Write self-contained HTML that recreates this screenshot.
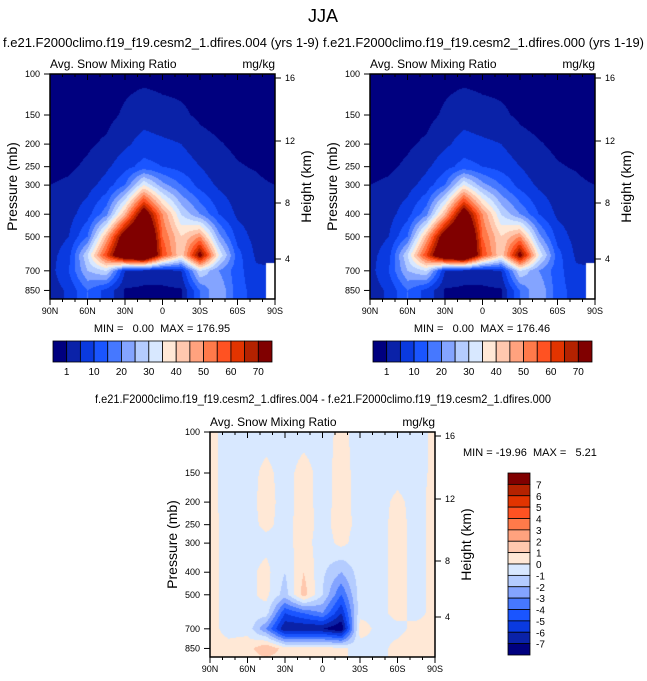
<!DOCTYPE html>
<html><head><meta charset="utf-8"><style>
body{margin:0;background:#fff;width:647px;height:681px;overflow:hidden;position:relative;font-family:"Liberation Sans",sans-serif}
canvas{position:absolute}
svg{position:absolute;left:0;top:0}
text{white-space:pre}
</style></head><body>
<canvas id="c1" width="225" height="225" style="left:50px;top:74px"></canvas>
<canvas id="c2" width="225" height="225" style="left:370px;top:74px"></canvas>
<canvas id="c3" width="225" height="225" style="left:210px;top:432px"></canvas>
<svg id="s" width="647" height="681"></svg>
<script>
const lats=[90,75,60,45,30,15,0,-15,-30,-45,-60,-75,-90];
const levs=[100,150,200,250,300,400,500,600,700,850,925];
const fieldA=[
[0,0,0,0,0,0,0,0,0,0,0,0,0],
[0,0,0,0,1.5,3,2,1.5,0.5,0,0,0,0],
[0,0,0.5,1.5,4,7,6,5,2,1.2,0.5,0,0],
[0,0.5,1.5,4,8,12,10,8,5,2,1.2,0.8,0],
[1,1.5,3,7,15,35,22,15,8,4,2,1.5,1],
[1.5,3,8,18,45,80,50,30,20,10,4,2,1.5],
[2,5,15,45,80,100,55,40,50,22,8,3,2],
[3,8,30,60,90,100,60,40,75,35,12,4,2.5],
[3,10,25,30,5,3,3,5,30,20,12,6,null],
[2,6,15,8,0.5,0.3,0.3,0.5,15,25,12,8,null],
[2,6,15,8,0.5,0.3,0.3,0.5,15,25,12,8,null]];
const fieldB=fieldA;
const fieldD=[
[0.2,-0.3,-0.3,-0.3,-0.3,-0.3,-0.3,0.2,-0.3,-0.3,-0.3,-0.3,0.2],
[0.2,-0.3,-0.3,0.2,-0.3,0.3,-0.3,0.3,-0.3,-0.3,-0.3,-0.3,0.2],
[0.2,-0.3,-0.3,0.3,-0.3,0.3,-0.3,0.3,-0.3,-0.3,0.2,-0.3,0.3],
[0.3,-0.3,-0.3,0.2,-0.3,0.4,-0.3,0.4,-0.3,-0.3,0.3,-0.3,0.3],
[0.3,-0.3,-0.3,-0.3,-0.3,0.4,-0.5,0.3,-0.5,-0.3,0.3,-0.3,0.3],
[0.3,-0.3,-0.3,0.3,-1,1,-0.8,-2,-0.5,-0.3,0.3,-0.3,0.3],
[0.3,-0.3,-0.3,0.3,-1.5,1.5,-1,-4,-0.5,-0.3,0.3,-0.3,0.3],
[0.3,-0.3,-0.3,-0.5,-5,-4,-3,-6,-0.3,-0.3,0.3,-0.3,0.3],
[0.3,-0.3,-0.3,-3,-7,-7,-7,-8,0.5,-0.3,-0.3,0.3,0.3],
[0.2,0.3,0.5,2,0.5,0.5,0.5,0.3,-0.5,-0.3,0.3,0.5,0.3],
[0.2,0.3,0.5,1,0.5,0.5,0.5,0.3,-0.5,-0.3,0.3,0.5,0.3]];
const levelsA=[1,5,10,15,20,25,30,35,40,45,50,55,60,65,70];
const labelsA=["1","10","20","30","40","50","60","70"];
const levelsD=[-7,-6,-5,-4,-3,-2,-1,0,1,2,3,4,5,6,7];
const colors=["#00007f","#0a22a8","#0a3ae0","#1a55ff","#4678ff","#84a4ff","#b4ccff","#d8e8ff","#ffe8d6","#ffc8ae","#ffa27e","#ff7a4a","#ff5222","#e23400","#b42200","#800000"];
const NS="http://www.w3.org/2000/svg",svg=document.getElementById('s');
const ptop=100,pbot=925,H=225,W=225;
function yOf(p){return H*Math.log(p/ptop)/Math.log(pbot/ptop);}
function xOf(lat){return W*(90-lat)/180;}
function colorIdx(v,lv){let i=0;while(i<lv.length&&v>=lv[i])i++;return i;}
function hex(c){return [parseInt(c.slice(1,3),16),parseInt(c.slice(3,5),16),parseInt(c.slice(5,7),16)];}
const rgb=colors.map(hex);
function sample(f,lat,p){
  let fi=(90-lat)/15;let i0=Math.min(Math.floor(fi),lats.length-2),tx=fi-i0;
  let j0=0;while(j0<levs.length-2&&p>levs[j0+1])j0++;
  let ty=(Math.log(p)-Math.log(levs[j0]))/(Math.log(levs[j0+1])-Math.log(levs[j0]));ty=Math.max(0,Math.min(1,ty));
  const ni=tx<0.5?i0:i0+1,nj=ty<0.5?j0:j0+1;
  if(f[nj][ni]===null)return null;
  const a=f[j0][i0],b=f[j0][i0+1],c=f[j0+1][i0],d=f[j0+1][i0+1];
  const z=(v,alt)=>v===null?alt:v;
  const A=z(a,z(c,0)),B=z(b,A),C=z(c,A),D=z(d,C);
  return (A*(1-tx)+B*tx)*(1-ty)+(C*(1-tx)+D*tx)*ty;
}
function draw(id,f,lv){
  const cv=document.getElementById(id),ctx=cv.getContext('2d'),im=ctx.createImageData(W,H);
  for(let y=0;y<H;y++){const p=ptop*Math.exp((y+0.5)/H*Math.log(pbot/ptop));
    for(let x=0;x<W;x++){const lat=90-(x+0.5)/W*180;const v=sample(f,lat,p);const k=(y*W+x)*4;
      if(v===null){im.data[k]=255;im.data[k+1]=255;im.data[k+2]=255;}else{const c=rgb[colorIdx(v,lv)];im.data[k]=c[0];im.data[k+1]=c[1];im.data[k+2]=c[2];}
      im.data[k+3]=255;}}
  ctx.putImageData(im,0,0);
}
draw('c1',fieldA,levelsA);draw('c2',fieldB,levelsA);draw('c3',fieldD,levelsD);
function el(t,a,txt){const e=document.createElementNS(NS,t);for(const k in a)e.setAttribute(k,a[k]);if(txt!==undefined)e.textContent=txt;svg.appendChild(e);return e;}
function text(x,y,s,size,anchor,name,extra){const e=el('text',Object.assign({x:x,y:y,'font-size':size,'text-anchor':anchor||'start','font-family':'Liberation Sans, sans-serif'},extra||{}),s);return e;}
const pTicks=[100,150,200,250,300,400,500,700,850];
const hTicks=[[16,4],[12,67],[8,129],[4,185]];
const latTicks=[[90,"90N"],[60,"60N"],[30,"30N"],[0,"0"],[-30,"30S"],[-60,"60S"],[-90,"90S"]];
function axes(ox,oy,pre){
  const r=el('rect',{x:ox,y:oy,width:W,height:H,fill:'none',stroke:'#000','stroke-width':1.5});
  
  for(let lat=90;lat>=-90;lat-=10){const x=ox+xOf(lat);const major=lat%30===0;const L=major?6:3;
    el('line',{x1:x,y1:oy,x2:x,y2:oy+L,stroke:'#000'});el('line',{x1:x,y1:oy+H,x2:x,y2:oy+H+L,stroke:'#000'});}
  latTicks.forEach(t=>text(ox+xOf(t[0]),oy+H+15,t[1],9,'middle',pre+'-x-tick-label'));
  pTicks.forEach(p=>{const y=oy+yOf(p);el('line',{x1:ox-6,y1:y,x2:ox,y2:y,stroke:'#000'});text(ox-10,y+3,String(p),9,'end',pre+'-y-tick-label');});
  hTicks.forEach(h=>{const y=oy+h[1];el('line',{x1:ox+W,y1:y,x2:ox+W+6,y2:y,stroke:'#000'});text(ox+W+10,y+3,String(h[0]),9,'start',pre+'-height-tick-label');});
  text(ox-33,oy+H/2,'Pressure (mb)',14,'middle',pre+'-y-axis-title',{transform:`rotate(-90 ${ox-33} ${oy+H/2})`});
  text(ox+W+36,oy+H/2,'Height (km)',14,'middle',pre+'-height-axis-title',{transform:`rotate(-90 ${ox+W+36} ${oy+H/2})`});
  text(ox,oy-6,'Avg. Snow Mixing Ratio',12,'start',pre+'-variable-label');
  text(ox+W,oy-6,'mg/kg',12,'end',pre+'-units-label');
}
function hbar(ox,oy,pre){const bw=219/16;
  colors.forEach((c,i)=>{const r=el('rect',{x:ox+i*bw,y:oy,width:bw,height:21,fill:c,stroke:'#000','stroke-width':0.8});});
  labelsA.forEach((l,i)=>text(ox+(1+2*i)*bw,oy+34,l,10,'middle',pre+'-colorbar-label'));}
text(323,22,'JJA',18,'middle','main-title');
text(3,47,'f.e21.F2000climo.f19_f19.cesm2_1.dfires.004 (yrs 1-9)',13,'start','left-subtitle',{textLength:316,lengthAdjust:'spacingAndGlyphs'});
text(323,47,'f.e21.F2000climo.f19_f19.cesm2_1.dfires.000 (yrs 1-19)',13,'start','right-subtitle',{textLength:321,lengthAdjust:'spacingAndGlyphs'});
axes(50,74,'left');axes(370,74,'right');axes(210,432,'diff');
text(162,332,'MIN =   0.00  MAX = 176.95',11,'middle','left-min-max');
text(482,332,'MIN =   0.00  MAX = 176.46',11,'middle','right-min-max');
hbar(53,341,'left');hbar(373,341,'right');
text(323,403,'f.e21.F2000climo.f19_f19.cesm2_1.dfires.004 - f.e21.F2000climo.f19_f19.cesm2_1.dfires.000',12,'middle','diff-title',{textLength:456,lengthAdjust:'spacingAndGlyphs'});
text(463,456,'MIN = -19.96  MAX =   5.21',11,'start','diff-min-max');
const vbh=182/16;
colors.slice().reverse().forEach((c,i)=>{const r=el('rect',{x:508,y:473+i*vbh,width:22,height:vbh,fill:c,stroke:'#000','stroke-width':0.8});});
levelsD.slice().reverse().forEach((l,i)=>text(536,473+(i+1)*vbh+4,String(l),10,'start','diff-colorbar-label'));
</script></body></html>
